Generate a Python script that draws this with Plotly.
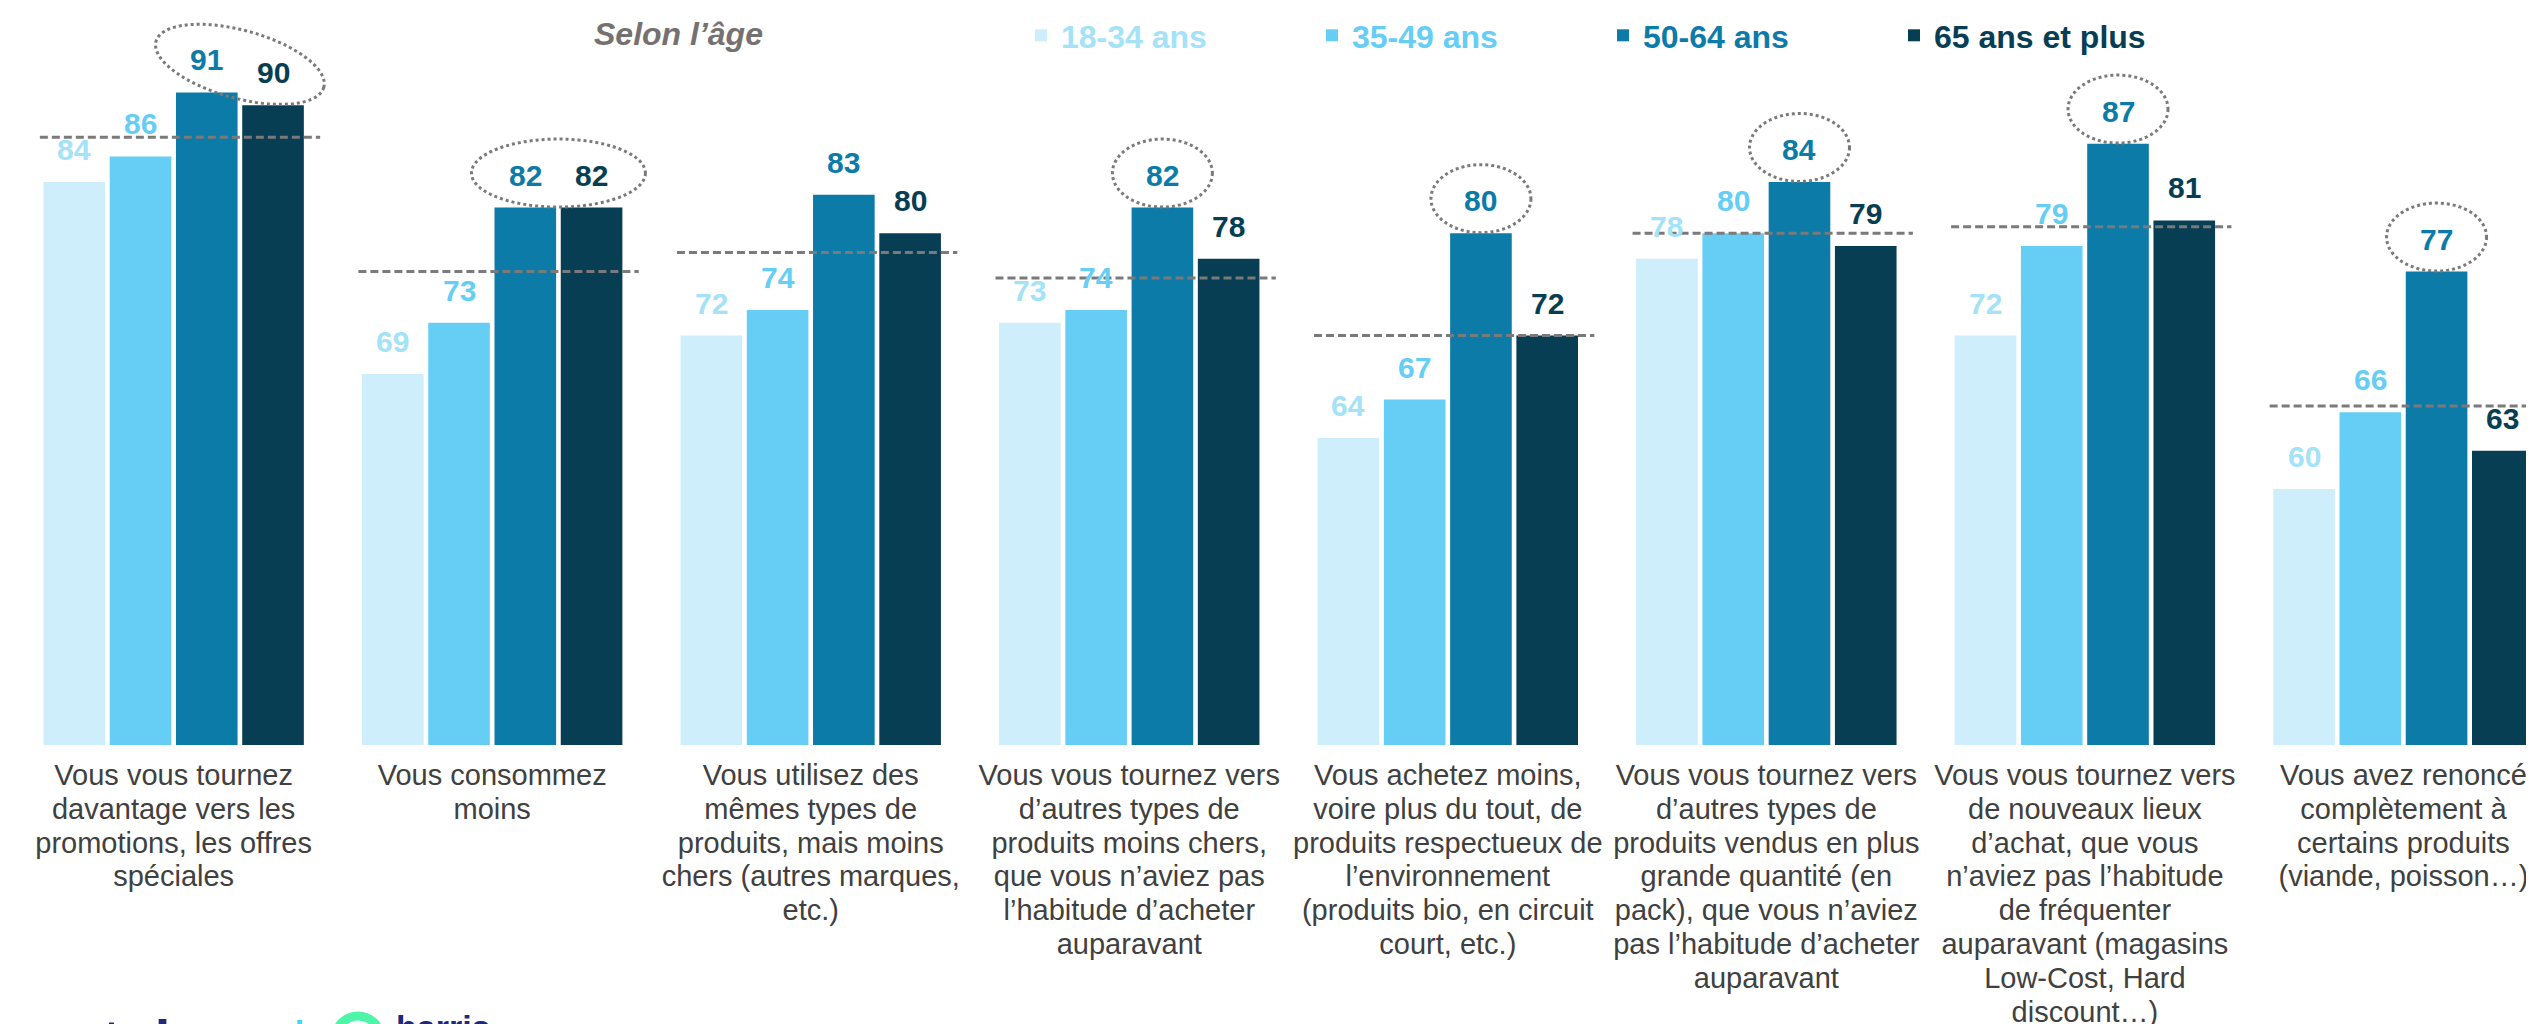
import math
import numpy as np
import plotly.graph_objects as go

# ---- données ----
categories = [
    ["Vous vous tournez", "davantage vers les", "promotions, les offres", "spéciales"],
    ["Vous consommez", "moins"],
    ["Vous utilisez des", "mêmes types de", "produits, mais moins", "chers (autres marques,", "etc.)"],
    ["Vous vous tournez vers", "d’autres types de", "produits moins chers,", "que vous n’aviez pas",
     "l’habitude d’acheter", "auparavant"],
    ["Vous achetez moins,", "voire plus du tout, de", "produits respectueux de", "l’environnement",
     "(produits bio, en circuit", "court, etc.)"],
    ["Vous vous tournez vers", "d’autres types de", "produits vendus en plus", "grande quantité (en",
     "pack), que vous n’aviez", "pas l’habitude d’acheter", "auparavant"],
    ["Vous vous tournez vers", "de nouveaux lieux", "d’achat, que vous", "n’aviez pas l’habitude",
     "de fréquenter", "auparavant (magasins", "Low-Cost, Hard", "discount…)"],
    ["Vous avez renoncé", "complètement à", "certains produits", "(viande, poisson…)"],
]
age_groups = ["18-34 ans", "35-49 ans", "50-64 ans", "65 ans et plus"]
v_18_34 = [84, 69, 72, 73, 64, 78, 72, 60]
v_35_49 = [86, 73, 74, 74, 67, 80, 79, 66]
v_50_64 = [91, 82, 83, 82, 80, 84, 87, 77]
v_65_plus = [90, 82, 80, 78, 72, 79, 81, 63]
ensemble = [87.5, 77, 78.5, 76.5, 72, 80, 80.5, 66.5]  # ligne pointillée (total)
# barres entourées : (catégorie, tranches d'âge)
highlights = [(0, [2, 3]), (1, [2, 3]), (3, [2]), (4, [2]), (5, [2]), (6, [2]), (7, [2])]

series = [v_18_34, v_35_49, v_50_64, v_65_plus]

# ---- style ----
FONT = "Liberation Sans, Arial, sans-serif"
bar_colors = ["#cdeefa", "#66cef5", "#0c7ba8", "#073e53"]
text_colors = ["#a3e2f7", "#66cef5", "#0c7ba8", "#073e53"]
GREY = "#7a7a7a"

W, H = 2534, 1024
MB = 287
X_RANGE = [-0.52, 7.435]
Y_RANGE = [40, 97.6]
BARGAP = 0.168
px_x = W / (X_RANGE[1] - X_RANGE[0])
px_y = (H - MB) / (Y_RANGE[1] - Y_RANGE[0])
slot = (1 - BARGAP) / len(series)
xs = list(range(len(categories)))


def bar_x(i, j):
    return i + (j - (len(series) - 1) / 2) * slot


def paper_y(py):
    return (H - MB - py) / (H - MB)


def tick_text(lines):
    # police 29 px, interligne calé sur 26 px
    return "<br>".join(f"<span style='font-size:29px'>{l}</span>" for l in lines)


def ellipse_path(cx, cy, a, b, angle):
    th = math.radians(angle)
    pts = []
    for t in np.linspace(0, 2 * math.pi, 90):
        dx = a * math.cos(t) * math.cos(th) - b * math.sin(t) * math.sin(th)
        dy = a * math.cos(t) * math.sin(th) + b * math.sin(t) * math.cos(th)
        pts.append(f"{cx + dx / px_x:.4f},{cy - dy / px_y:.4f}")
    return "M" + " L".join(pts) + " Z"


fig = go.Figure()
for j, (name, vals) in enumerate(zip(age_groups, series)):
    fig.add_trace(go.Bar(
        x=xs, y=vals,
        name=f"<span style='color:{text_colors[j]}'><b>{name}</b></span>",
        marker=dict(color=bar_colors[j], line=dict(width=0)),
    ))
    for i, v in enumerate(vals):
        fig.add_annotation(
            x=bar_x(i, j), y=v, text=f"<b>{v}</b>", showarrow=False,
            yanchor="bottom", yshift=14,
            font=dict(family=FONT, size=30, color=text_colors[j]),
        )

# moyenne ensemble
for i, m in enumerate(ensemble):
    fig.add_shape(type="line", x0=i - 0.42, x1=i + 0.46, y0=m, y1=m,
                  line=dict(color=GREY, width=3, dash="8px,4px"), layer="above")

# cercles pointillés
for i, js in highlights:
    vals = [series[j][i] for j in js]
    cx = sum(bar_x(i, j) for j in js) / len(js)
    cy = sum(vals) / len(vals) + 2.7
    if len(js) == 1:
        a, b, ang = 50, 34, 0
    else:
        a, b = 87, 34
        ang = math.degrees(math.atan2((vals[0] - vals[1]) * px_y, slot * px_x)) * 1.4
    fig.add_shape(type="path", path=ellipse_path(cx, cy, a, b, ang),
                  line=dict(color=GREY, width=3, dash="dot"), layer="above")

fig.add_annotation(
    xref="paper", yref="paper", x=671 / W, y=paper_y(6), xanchor="center", yanchor="top",
    text="<b><i>Selon l’âge</i></b>", showarrow=False,
    font=dict(family=FONT, size=32, color="#767171"),
)

# logo (coupé en bas, comme sur l'original)
fig.add_annotation(xref="paper", yref="paper", x=92 / W, y=paper_y(998), xanchor="left",
                   yanchor="top", text="<b>toluna</b>", showarrow=False,
                   font=dict(family=FONT, size=56, color="#1c2a78"))
fig.add_annotation(xref="paper", yref="paper", x=280 / W, y=paper_y(1000), xanchor="left",
                   yanchor="top", text="<b>*</b>", showarrow=False,
                   font=dict(family=FONT, size=48, color="#3fd8f0"))
fig.add_shape(type="circle", xref="paper", yref="paper",
              x0=326 / W, x1=374 / W, y0=paper_y(1060), y1=paper_y(1008),
              line=dict(color="#4cf5a8", width=9))
fig.add_annotation(xref="paper", yref="paper", x=386 / W, y=paper_y(998), xanchor="left",
                   yanchor="top", text="<b>harris</b>", showarrow=False,
                   font=dict(family=FONT, size=34, color="#1c2a78"))

fig.update_layout(
    width=W, height=H,
    barmode="group", bargap=BARGAP, bargroupgap=0.07,
    plot_bgcolor="white", paper_bgcolor="white",
    margin=dict(l=0, r=0, t=0, b=MB, autoexpand=False),
    font=dict(family=FONT),
    showlegend=True,
    legend=dict(
        orientation="h", x=1013 / W, xanchor="left", y=1, yanchor="top",
        entrywidth=246, entrywidthmode="pixels", itemwidth=30,
        font=dict(family=FONT, size=32), bgcolor="rgba(0,0,0,0)",
    ),
    xaxis=dict(
        range=X_RANGE, tickmode="array", tickvals=xs,
        ticktext=[tick_text(c) for c in categories],
        showgrid=False, zeroline=False, showline=False, ticks="",
        tickfont=dict(family=FONT, size=26, color="#404040"), tickangle=0,
        ticklabelstandoff=13, automargin=False,
    ),
    yaxis=dict(range=Y_RANGE, visible=False, showgrid=False),
)

fig.write_html("out.html")
